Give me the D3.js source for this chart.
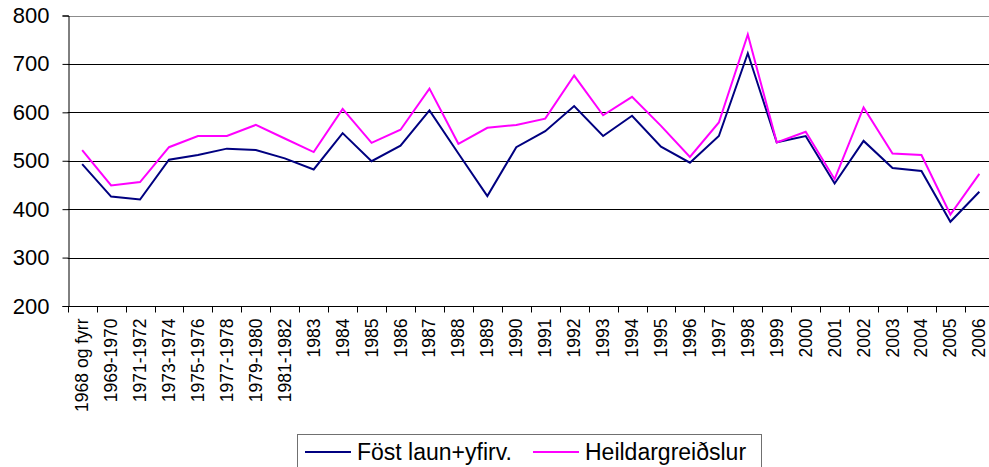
<!DOCTYPE html>
<html>
<head>
<meta charset="utf-8">
<script src="https://cdn.jsdelivr.net/npm/d3@7"></script>
<style>
  body { margin: 0; background: #fff; }
  svg { display: block; }
</style>
</head>
<body>
<div class="chart"></div>
<script>
// categories and the two series
const categories = ["1968 og fyrr", "1969-1970", "1971-1972", "1973-1974", "1975-1976",
                    "1977-1978", "1979-1980", "1981-1982", "1983", "1984", "1985", "1986",
                    "1987", "1988", "1989", "1990", "1991", "1992", "1993", "1994", "1995",
                    "1996", "1997", "1998", "1999", "2000", "2001", "2002", "2003", "2004",
                    "2005", "2006"];

const fastLaun = [493, 426, 420, 502, 512, 525, 522, 505,
                  482, 557, 499, 531, 604, 515, 427, 528,
                  561, 613, 551, 593, 529, 496, 551, 722,
                  538, 551, 453, 541, 485, 479, 374, 436];

const heildar = [522, 449, 456, 528, 551, 551, 574, 546,
                 518, 607, 537, 564, 649, 535, 568, 574,
                 587, 676, 594, 632, 572, 508, 579, 761,
                 538, 560, 462, 610, 515, 512, 389, 473];

const yTicks = [200, 300, 400, 500, 600, 700, 800];
const seriesNames = ["Föst laun+yfirv.", "Heildargreiðslur"];

const w = 989, h = 467;
const pLeft = 67.7, pRight = 993.8, pTop = 15.5, pBottom = 306;
const font = "'Liberation Sans', Arial, sans-serif";

const svg = d3.select(".chart").append("svg")
  .attr("width", w)
  .attr("height", h);

const x = d3.scaleBand()
  .domain(categories)
  .range([pLeft, pRight])
  .padding(0);

const y = d3.scaleLinear()
  .domain([200, 800])
  .range([pBottom, pTop]);

// gridlines
svg.append("g")
  .selectAll("line")
  .data(yTicks.filter(d => d > 200))
  .enter()
  .append("line")
  .attr("x1", pLeft)
  .attr("x2", pRight)
  .attr("y1", d => Math.round(y(d)) + 0.5)
  .attr("y2", d => Math.round(y(d)) + 0.5)
  .attr("stroke", d => d === 800 ? "#8c8c8c" : "#000")
  .attr("stroke-width", 1);

// y axis
const yAxis = svg.append("g")
  .attr("transform", "translate(" + (Math.round(pLeft) + 0.5) + ",0)")
  .call(d3.axisLeft(y).tickValues(yTicks).tickSize(6).tickPadding(13).tickFormat(d3.format("d")));
yAxis.select(".domain").attr("stroke", "#000");
yAxis.selectAll(".tick line").attr("stroke", "#000");
yAxis.selectAll(".tick text")
  .attr("fill", "#000")
  .style("font-family", font)
  .style("font-size", "22px");

// x axis, ticks on category borders
const xAxis = svg.append("g")
  .attr("transform", "translate(0," + (Math.round(pBottom) + 0.5) + ")");
xAxis.append("line")
  .attr("x1", pLeft).attr("x2", pRight)
  .attr("stroke", "#000");
xAxis.selectAll(".tk")
  .data(categories)
  .enter()
  .append("line")
  .attr("class", "tk")
  .attr("x1", d => Math.round(x(d)) + 0.5)
  .attr("x2", d => Math.round(x(d)) + 0.5)
  .attr("y1", 0)
  .attr("y2", 6)
  .attr("stroke", "#000");
xAxis.selectAll("text")
  .data(categories)
  .enter()
  .append("text")
  .attr("transform", d => "translate(" + (x(d) + x.bandwidth() / 2 + 6) + ",12) rotate(-90)")
  .attr("text-anchor", "end")
  .style("font-family", font)
  .style("font-size", "17.5px")
  .attr("fill", "#000")
  .text(d => d);

// lines
const line = d3.line()
  .x((d, i) => x(categories[i]) + x.bandwidth() / 2)
  .y(d => y(d));

svg.append("path")
  .datum(fastLaun)
  .attr("d", line)
  .attr("fill", "none")
  .attr("stroke", "#000080")
  .attr("stroke-width", 2);

svg.append("path")
  .datum(heildar)
  .attr("d", line)
  .attr("fill", "none")
  .attr("stroke", "#ff00ff")
  .attr("stroke-width", 2);

// legend
const legend = svg.append("g");
legend.append("rect")
  .attr("x", 297.5).attr("y", 434.5)
  .attr("width", 464).attr("height", 40)
  .attr("fill", "#fff")
  .attr("stroke", "#707070");

const legendColors = ["#000080", "#ff00ff"];
const legendX = [305, 533];
seriesNames.forEach((name, i) => {
  legend.append("line")
    .attr("x1", legendX[i]).attr("x2", legendX[i] + 46)
    .attr("y1", 452).attr("y2", 452)
    .attr("stroke", legendColors[i])
    .attr("stroke-width", 2);
  legend.append("text")
    .attr("x", legendX[i] + 52)
    .attr("y", 460)
    .style("font-family", font)
    .style("font-size", "23px")
    .attr("fill", "#000")
    .text(name);
});
</script>
</body>
</html>
